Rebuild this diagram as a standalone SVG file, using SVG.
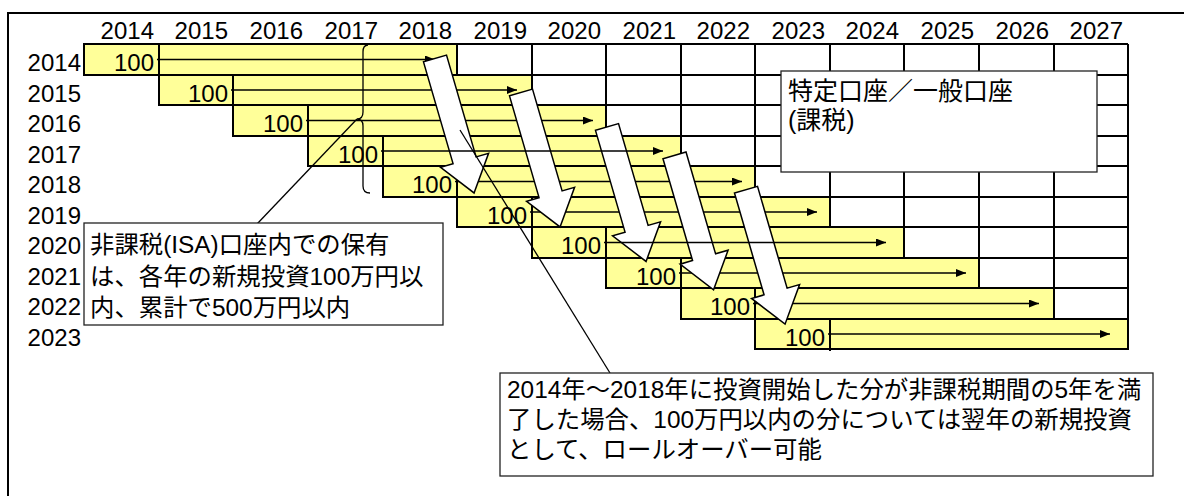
<svg xmlns="http://www.w3.org/2000/svg" xmlns:xlink="http://www.w3.org/1999/xlink" width="1184" height="496" viewBox="0 0 1184 496">
<style>
text{font-family:"Liberation Sans","Noto Sans CJK JP",sans-serif;font-size:24px;fill:#000}
.r{text-anchor:end}
.t{font-size:24.4px}
.t3{font-size:25px}
.grid{fill:none;stroke:#000;stroke-width:2}
.yel{fill:#FFFF99;stroke:#000;stroke-width:2}
.div{stroke:#000;stroke-width:2}
.ra{stroke:#000;stroke-width:1.5;fill:none;marker-end:url(#ah)}
.big{fill:#fff;stroke:#000;stroke-width:1.5;stroke-linejoin:miter}
.cl{stroke:#000;stroke-width:1.3;fill:none}
.box{fill:#fff;stroke:#222;stroke-width:1.3}
</style>
<defs>
<marker id="ah" markerWidth="10" markerHeight="8" refX="10" refY="4" orient="auto" markerUnits="userSpaceOnUse"><path d="M0,0 L10,4 L0,8 z" fill="#000"/></marker>
<polygon id="bigArrow" points="0,-12 106,-12 106,-25 140,0 106,25 106,12 0,12"/>
</defs>
<rect x="8" y="13" width="1190" height="500" fill="#fff" stroke="#000" stroke-width="2"/>

<g id="header">
<text class="r" x="154" y="39">2014</text><text class="r" x="228" y="39">2015</text><text class="r" x="303" y="39">2016</text><text class="r" x="378" y="39">2017</text><text class="r" x="452" y="39">2018</text><text class="r" x="527" y="39">2019</text><text class="r" x="601" y="39">2020</text><text class="r" x="676" y="39">2021</text><text class="r" x="750" y="39">2022</text><text class="r" x="825" y="39">2023</text><text class="r" x="899" y="39">2024</text><text class="r" x="974" y="39">2025</text><text class="r" x="1049" y="39">2026</text><text class="r" x="1123" y="39">2027</text>
</g>
<g id="rowlabels">
<text class="r" x="81" y="71">2014</text><text class="r" x="81" y="102">2015</text><text class="r" x="81" y="132">2016</text><text class="r" x="81" y="163">2017</text><text class="r" x="81" y="193">2018</text><text class="r" x="81" y="224">2019</text><text class="r" x="81" y="254">2020</text><text class="r" x="81" y="285">2021</text><text class="r" x="81" y="315">2022</text><text class="r" x="81" y="346">2023</text>
</g>
<g id="whitegrid">
<path class="grid" d="M457,44V75 M532,44V105 M606,44V136 M681,44V166 M755,44V197 M830,44V227 M904,44V258 M979,44V288 M1054,44V319 M1128,44V349 M457,44H1128 M457,75H1128 M532,105H1128 M606,136H1128 M681,166H1128 M755,197H1128 M830,227H1128 M904,258H1128 M979,288H1128 M1054,319H1128"/>
</g>
<g id="bands">
<g id="band2014"><rect class="yel" x="84" y="44" width="373" height="31"/><line class="div" x1="159" y1="44" x2="159" y2="75"/><text class="r" x="154" y="71">100</text></g>
<g id="band2015"><rect class="yel" x="159" y="75" width="373" height="30"/><line class="div" x1="233" y1="75" x2="233" y2="105"/><text class="r" x="228" y="102">100</text></g>
<g id="band2016"><rect class="yel" x="233" y="105" width="373" height="31"/><line class="div" x1="308" y1="105" x2="308" y2="136"/><text class="r" x="303" y="132">100</text></g>
<g id="band2017"><rect class="yel" x="308" y="136" width="373" height="30"/><line class="div" x1="383" y1="136" x2="383" y2="166"/><text class="r" x="378" y="163">100</text></g>
<g id="band2018"><rect class="yel" x="383" y="166" width="372" height="31"/><line class="div" x1="457" y1="166" x2="457" y2="197"/><text class="r" x="452" y="193">100</text></g>
<g id="band2019"><rect class="yel" x="457" y="197" width="373" height="30"/><line class="div" x1="532" y1="197" x2="532" y2="227"/><text class="r" x="527" y="224">100</text></g>
<g id="band2020"><rect class="yel" x="532" y="227" width="372" height="31"/><line class="div" x1="606" y1="227" x2="606" y2="258"/><text class="r" x="601" y="254">100</text></g>
<g id="band2021"><rect class="yel" x="606" y="258" width="373" height="30"/><line class="div" x1="681" y1="258" x2="681" y2="288"/><text class="r" x="676" y="285">100</text></g>
<g id="band2022"><rect class="yel" x="681" y="288" width="373" height="31"/><line class="div" x1="755" y1="288" x2="755" y2="319"/><text class="r" x="750" y="315">100</text></g>
<g id="band2023"><rect class="yel" x="755" y="319" width="373" height="30"/><line class="div" x1="830" y1="319" x2="830" y2="351"/><text class="r" x="825" y="346">100</text></g>
</g>
<g id="connectors">
<line class="ra" x1="157" y1="59.5" x2="435" y2="59.5"/>
<line class="ra" x1="231" y1="90" x2="517" y2="90"/>
<line class="ra" x1="306" y1="120.5" x2="593" y2="120.5"/>
<line class="ra" x1="455" y1="181.5" x2="742" y2="181.5"/>
<line class="ra" x1="530" y1="212" x2="817" y2="212"/>
<line class="ra" x1="679" y1="273" x2="966" y2="273"/>
<line class="ra" x1="753" y1="303.5" x2="1039" y2="303.5"/>
<line class="ra" x1="828" y1="334" x2="1110" y2="334"/>
</g>
<g id="rollover-arrows">
<use xlink:href="#bigArrow" class="big" transform="translate(435,58.5) rotate(73.8)"/>
<use xlink:href="#bigArrow" class="big" transform="translate(521,92.5) rotate(73.8)"/>
<use xlink:href="#bigArrow" class="big" transform="translate(607,127) rotate(73.8)"/>
<use xlink:href="#bigArrow" class="big" transform="translate(674.5,155.4) rotate(73.8)"/>
<use xlink:href="#bigArrow" class="big" transform="translate(746,189.7) rotate(73.8)"/>
</g>
<g id="connectors-top">
<line class="ra" x1="381" y1="151" x2="663" y2="151"/>
<line class="ra" x1="604" y1="242.5" x2="886" y2="242.5"/>
<path class="cl" d="M368,45 Q363,45 363,52 L363,112 Q363,119 357,119 Q363,119 363,126 L363,186 Q363,193 370,193"/>
<line class="cl" x1="257" y1="224" x2="357" y2="119"/>
<line class="cl" x1="460" y1="130" x2="610" y2="373"/>
</g>
<g id="taxable-box">
<rect class="box" x="781" y="71" width="316" height="101"/>
<text class="t3" x="788" y="100">特定口座／一般口座</text>
<text class="t3" x="788" y="129">(課税)</text>
</g>
<g id="isa-box">
<rect class="box" x="84" y="223" width="359" height="102"/>
<text class="t" x="90" y="253">非課税(ISA)口座内での保有</text>
<text class="t" x="90" y="285">は、各年の新規投資100万円以</text>
<text class="t" x="90" y="316">内、累計で500万円以内</text>
</g>
<g id="rollover-box">
<rect class="box" x="500" y="373" width="653" height="103"/>
<text class="t" x="507" y="398">2014年～2018年に投資開始した分が非課税期間の5年を満</text>
<text class="t" x="507" y="428">了した場合、100万円以内の分については翌年の新規投資</text>
<text class="t" x="507" y="458">として、ロールオーバー可能</text>
</g>
</svg>
